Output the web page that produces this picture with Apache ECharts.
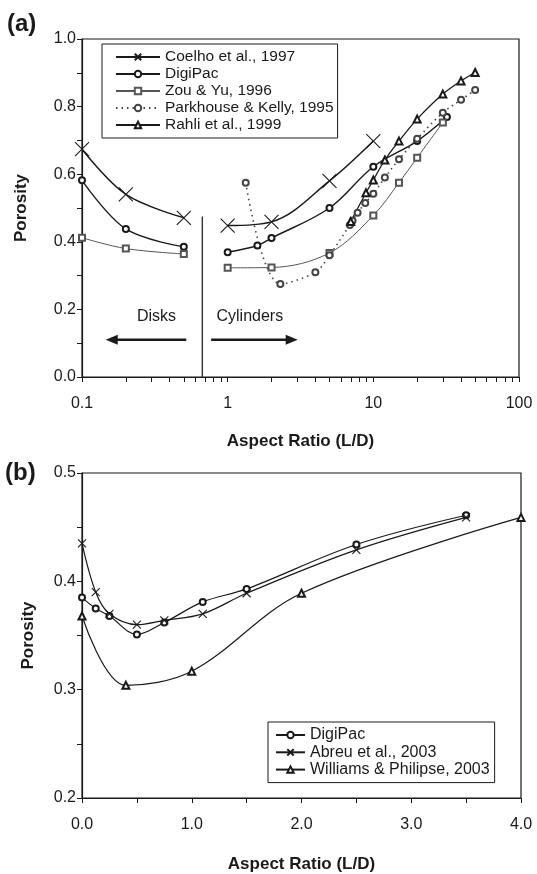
<!DOCTYPE html>
<html>
<head>
<meta charset="utf-8">
<script src="https://cdn.jsdelivr.net/npm/echarts@6/dist/echarts.min.js"></script>
<style>
  html, body { margin: 0; padding: 0; background: #fff; }
  #chart { width: 537px; height: 874px; }
</style>
</head>
<body>
<div id="chart"></div>
<script>
// (a) porosity vs aspect ratio, log x
const coelhoDisks = [[0.1, 0.674], [0.2, 0.540], [0.5, 0.471]];
const coelhoCyl = [[1, 0.448], [2, 0.459], [5, 0.580], [10, 0.698]];
const digipacDisks = [[0.1, 0.582], [0.2, 0.438], [0.5, 0.385]];
const digipacCyl = [[1, 0.369], [1.6, 0.389], [2, 0.411], [5, 0.500], [10, 0.622], [20, 0.698], [32, 0.769]];
const zouDisks = [[0.1, 0.412], [0.2, 0.380], [0.5, 0.364]];
const zouCyl = [[1, 0.323], [2, 0.324], [5, 0.367], [10, 0.478], [15, 0.575], [20, 0.649], [30, 0.753]];
const parkhouse = [[1.33, 0.575], [2.3, 0.275], [4, 0.310], [5, 0.360], [6.9, 0.450], [7.2, 0.462], [7.8, 0.486],
  [8.8, 0.515], [10, 0.542], [12, 0.590], [15, 0.644], [20, 0.705], [30, 0.782], [40, 0.820], [50, 0.849]];
const rahli = [[7, 0.46], [8.9, 0.545], [10, 0.583], [12, 0.642], [15, 0.698], [20, 0.763], [30, 0.837], [40, 0.876], [50, 0.901]];
const divider = [[0.67, 0], [0.67, 0.475]];
const diskArrow = [[0.52, 0.11], [0.16, 0.11]];
const cylArrow = [[0.77, 0.11], [2.75, 0.11]];
const regionLabels = [['Disks', 0.325, 0.179], ['Cylinders', 1.42, 0.179]];
const logTicks = [0.1, 0.2, 0.3, 0.4, 0.5, 0.6, 0.7, 0.8, 0.9, 1, 2, 3, 4, 5, 6, 7, 8, 9, 10,
  20, 30, 40, 50, 60, 70, 80, 90, 100];
const logLabels = [0.1, 1, 10, 100];

// (b) porosity vs aspect ratio, linear x
const digipacB = [[0, 0.385], [0.125, 0.375], [0.25, 0.368], [0.5, 0.351], [0.75, 0.362], [1.1, 0.381], [1.5, 0.393], [2.5, 0.434], [3.5, 0.461]];
const abreu = [[0, 0.435], [0.125, 0.390], [0.25, 0.370], [0.5, 0.360], [0.75, 0.364], [1.1, 0.370], [1.5, 0.389], [2.5, 0.429], [3.5, 0.459]];
const williams = [[0, 0.368], [0.4, 0.304], [1.0, 0.317], [2.0, 0.389], [4.0, 0.459]];

const FONT = 'Liberation Sans, Arial, Helvetica, sans-serif';
const INK = '#1a1a1a';
const CROSS = 'path://M0,0L10,10M10,0L0,10';

const chart = echarts.init(document.getElementById('chart'));

const axisCommon = {
  axisLine: { show: true, lineStyle: { color: INK, width: 1.2 } },
  axisTick: { show: true, inside: false, length: 5, lineStyle: { color: INK } },
  minorTick: { show: true, splitNumber: 2, length: 5, lineStyle: { color: INK } },
  splitLine: { show: false },
  minorSplitLine: { show: false },
  axisLabel: { color: INK, fontSize: 16, fontFamily: FONT },
  nameTextStyle: { color: INK, fontSize: 17, fontWeight: 'bold', fontFamily: FONT },
  nameLocation: 'middle'
};

function lineSeries(name, data, sym, size, color, width, extra) {
  return Object.assign({
    name: name,
    type: 'line',
    data: data,
    smooth: 0.35,
    clip: false,
    symbol: sym,
    symbolSize: size,
    showAllSymbol: true,
    lineStyle: { color: color, width: width },
    itemStyle: { color: color, borderColor: color, borderWidth: 1.1 },
    emphasis: { disabled: true },
    z: 3
  }, extra || {});
}

// arrow drawn as a two-point line, head on the last point
function arrowSeries(pts, rotate) {
  return {
    type: 'line', silent: true, clip: false, z: 2,
    lineStyle: { color: INK, width: 2.6 },
    emphasis: { disabled: true },
    data: [
      { value: pts[0], symbol: 'none' },
      { value: pts[1], symbol: 'triangle', symbolSize: [10, 12], symbolRotate: rotate, itemStyle: { color: INK } }
    ]
  };
}

const legendText = { fontSize: 15.5, color: INK, fontFamily: FONT };

const option = {
  animation: false,
  backgroundColor: '#fff',
  title: [
    { text: '(a)', left: 2, top: 7, textStyle: { fontSize: 24, fontWeight: 'bold', color: INK, fontFamily: FONT } },
    { text: '(b)', left: 0, top: 456, textStyle: { fontSize: 24, fontWeight: 'bold', color: INK, fontFamily: FONT } }
  ],
  grid: [
    { left: 82, right: 18, top: 39, height: 338, show: true, borderColor: INK, borderWidth: 1.2, backgroundColor: 'transparent' },
    { left: 82, right: 16, top: 473, height: 325, show: true, borderColor: INK, borderWidth: 1.2, backgroundColor: 'transparent' }
  ],
  legend: [
    {
      orient: 'vertical', left: 102, top: 44,
      data: ['Coelho et al., 1997', 'DigiPac', 'Zou & Yu, 1996', 'Parkhouse & Kelly, 1995', 'Rahli et al., 1999'],
      itemWidth: 44, itemHeight: 8, itemGap: 1,
      padding: [5, 4, 5, 13],
      backgroundColor: '#fff', borderColor: INK, borderWidth: 1,
      selectedMode: false,
      textStyle: legendText
    },
    {
      orient: 'vertical', left: 268, top: 722,
      data: ['DigiPac', 'Abreu et al., 2003', 'Williams & Philipse, 2003'],
      itemWidth: 29, itemHeight: 8, itemGap: 1.3,
      padding: [5, 5, 5, 7],
      backgroundColor: '#fff', borderColor: INK, borderWidth: 1,
      selectedMode: false,
      textStyle: Object.assign({}, legendText, { fontSize: 16 })
    }
  ],
  xAxis: [
    Object.assign({}, axisCommon, {
      gridIndex: 0, type: 'log', logBase: 10, min: 0.1, max: 100,
      name: 'Aspect Ratio (L/D)', nameGap: 56,
      axisTick: { show: true, inside: false, length: 5, lineStyle: { color: INK }, customValues: logTicks },
      minorTick: { show: false },
      axisLabel: Object.assign({}, axisCommon.axisLabel, {
        margin: 19, customValues: logLabels,
        formatter: v => String(Math.round(v * 10) / 10)
      })
    }),
    Object.assign({}, axisCommon, {
      gridIndex: 1, type: 'value', min: 0, max: 4, interval: 1,
      name: 'Aspect Ratio (L/D)', nameGap: 58,
      axisLabel: Object.assign({}, axisCommon.axisLabel, { margin: 19, formatter: v => v.toFixed(1) })
    })
  ],
  yAxis: [
    Object.assign({}, axisCommon, {
      gridIndex: 0, type: 'value', min: 0, max: 1, interval: 0.2,
      name: 'Porosity', nameGap: 52,
      axisLabel: Object.assign({}, axisCommon.axisLabel, { margin: 6, formatter: v => v.toFixed(1) })
    }),
    Object.assign({}, axisCommon, {
      gridIndex: 1, type: 'value', min: 0.2, max: 0.5, interval: 0.1,
      name: 'Porosity', nameGap: 45,
      axisLabel: Object.assign({}, axisCommon.axisLabel, { margin: 6, formatter: v => v.toFixed(1) })
    })
  ],
  series: [
    // panel (a)
    lineSeries('Coelho et al., 1997', coelhoDisks, CROSS, 14, INK, 1.5),
    lineSeries('Coelho et al., 1997', coelhoCyl, CROSS, 14, INK, 1.5),
    lineSeries('DigiPac', digipacDisks, 'emptyCircle', 6, INK, 1.4),
    lineSeries('DigiPac', digipacCyl, 'emptyCircle', 6, INK, 1.4),
    lineSeries('Zou & Yu, 1996', zouDisks, 'emptyRect', 6, '#555', 1),
    lineSeries('Zou & Yu, 1996', zouCyl, 'emptyRect', 6, '#555', 1),
    lineSeries('Parkhouse & Kelly, 1995', parkhouse, 'emptyCircle', 6, '#444', 1.5, {
      lineStyle: { color: '#444', width: 1.6, type: [1.5, 4] }
    }),
    lineSeries('Rahli et al., 1999', rahli, 'emptyTriangle', 7, INK, 1.3),
    {
      name: 'divider', type: 'line', data: divider, symbol: 'none', clip: false,
      lineStyle: { color: '#333', width: 1.4 }, emphasis: { disabled: true }, z: 2,
      markPoint: {
        silent: true, symbol: 'circle', symbolSize: 1,
        itemStyle: { color: 'transparent' },
        label: { show: true, position: 'inside', formatter: '{b}', color: INK, fontSize: 16, fontFamily: FONT },
        data: regionLabels.map(d => ({ name: d[0], coord: [d[1], d[2]] }))
      }
    },
    arrowSeries(diskArrow, 90),
    arrowSeries(cylArrow, -90),
    // panel (b)
    lineSeries('DigiPac', digipacB, 'emptyCircle', 6, INK, 1.2, { xAxisIndex: 1, yAxisIndex: 1 }),
    lineSeries('Abreu et al., 2003', abreu, CROSS, 8, INK, 1.2, { xAxisIndex: 1, yAxisIndex: 1 }),
    lineSeries('Williams & Philipse, 2003', williams, 'emptyTriangle', 7, INK, 1.2, { xAxisIndex: 1, yAxisIndex: 1 })
  ]
};

chart.setOption(option);
</script>
</body>
</html>
